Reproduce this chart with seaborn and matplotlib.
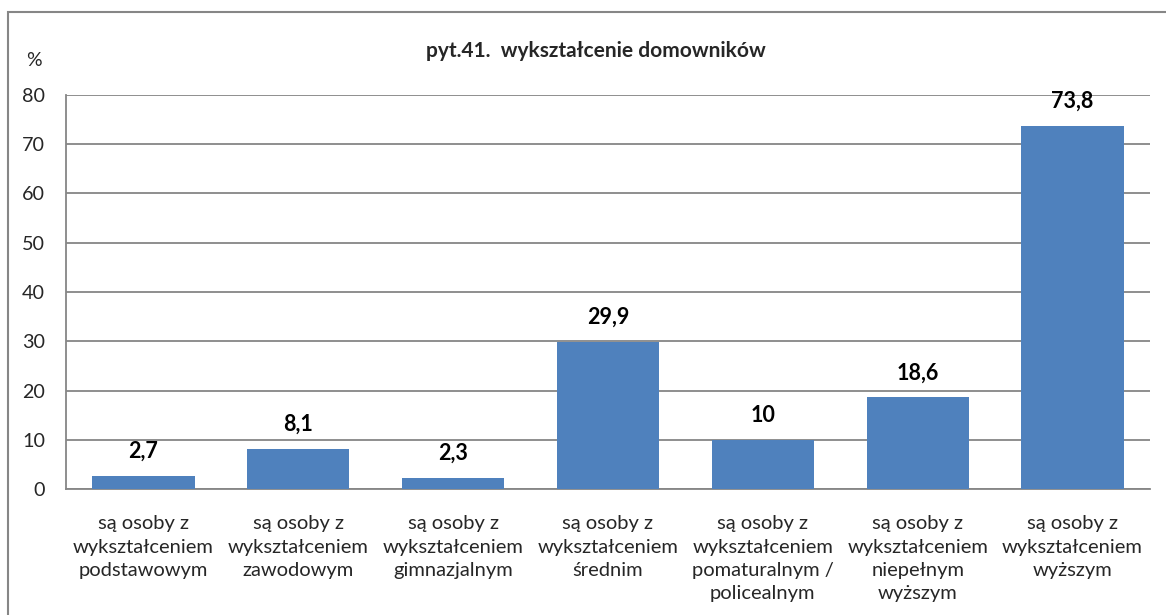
import matplotlib
matplotlib.use("Agg")
import matplotlib.pyplot as plt
import seaborn as sns
import pandas as pd
from matplotlib.patches import Rectangle

categories = [
    "są osoby z\nwykształceniem\npodstawowym",
    "są osoby z\nwykształceniem\nzawodowym",
    "są osoby z\nwykształceniem\ngimnazjalnym",
    "są osoby z\nwykształceniem\nśrednim",
    "są osoby z\nwykształceniem\npomaturalnym /\npolicealnym",
    "są osoby z\nwykształceniem\nniepełnym\nwyższym",
    "są osoby z\nwykształceniem\nwyższym",
]
values = [2.7, 8.1, 2.3, 29.9, 10, 18.6, 73.8]
value_labels = ["2,7", "8,1", "2,3", "29,9", "10", "18,6", "73,8"]
yticks = [0, 10, 20, 30, 40, 50, 60, 70, 80]

sns.set_theme(style="white")
plt.rcParams['font.family'] = ['Lato', 'DejaVu Sans']

df = pd.DataFrame({"cat": categories, "val": values})

W, H = 1166, 615
fig = plt.figure(figsize=(W / 100, H / 100), dpi=100)
ax = fig.add_axes([66 / W, 1 - 489 / H, (1150 - 66) / W, (489 - 95) / H])

sns.barplot(data=df, x="cat", y="val", color="#4F81BD", saturation=1,
            width=0.66, ax=ax, zorder=3, linewidth=0)

ax.set_ylim(0, 80)
ax.set_yticks(yticks)
ax.set_yticklabels([str(t) for t in yticks], fontsize=14.2)
ax.yaxis.grid(True, color="#868686", linewidth=1.3, zorder=0)
ax.set_axisbelow(True)
ax.set_xlabel("")
ax.set_ylabel("")
ax.tick_params(axis="x", length=0, pad=19, labelsize=14.5)
ax.tick_params(axis="y", length=0, pad=15)
for lbl in ax.get_xticklabels():
    lbl.set_linespacing(1.45)
    lbl.set_verticalalignment("top")

for s in ["top", "right"]:
    ax.spines[s].set_visible(False)
for s in ["left", "bottom"]:
    ax.spines[s].set_color("#868686")
    ax.spines[s].set_linewidth(1.3)

for i, (v, t) in enumerate(zip(values, value_labels)):
    ax.annotate(t, (i, v), xytext=(0, 13), textcoords="offset points",
                ha="center", va="baseline", fontsize=15.5, fontweight="bold",
                color="black")

fig.text(596 / W, 1 - 51 / H, "pyt.41.  wykształcenie domowników",
         ha="center", va="center", fontsize=15, fontweight="bold")
fig.text(34 / W, 1 - 60 / H, "%", ha="center", va="center", fontsize=14)

fig.patches.append(Rectangle((8 / W, -0.01), 1.2, 1 - 12 / H + 0.01,
                             transform=fig.transFigure, fill=False,
                             edgecolor="#868686", linewidth=1.5))

fig.savefig("out.png", dpi=100)
